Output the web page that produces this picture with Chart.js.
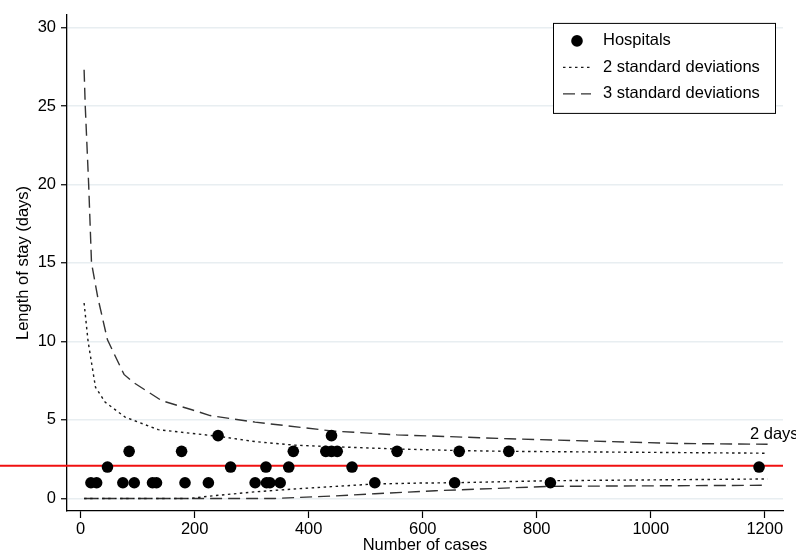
<!DOCTYPE html>
<html>
<head>
<meta charset="utf-8">
<title>Length of stay by number of cases</title>
<script src="https://cdn.jsdelivr.net/npm/chart.js@4.4.1/dist/chart.umd.min.js"></script>
<style>
    html, body { margin: 0; padding: 0; background: #fff; }
    canvas { display: block; }
</style>
</head>
<body>
<canvas id="funnel-chart" width="796" height="555"></canvas>
<script>
// Hospitals (number of cases, length of stay)
const hospitalCases = [18, 28, 74, 94, 126, 133, 183, 224, 306, 326, 332, 350, 516, 656, 824,
                       47, 263, 325, 365, 476, 1190,
                       85, 177, 373, 430, 440, 450, 555, 664, 751,
                       241, 440];
const hospitalLos = [1, 1, 1, 1, 1, 1, 1, 1, 1, 1, 1, 1, 1, 1, 1,
                     2, 2, 2, 2, 2, 2,
                     3, 3, 3, 3, 3, 3, 3, 3, 3,
                     4, 4];

// Overall mean
const meanLos = 2.08;
const meanLabel = '2 days';

// 2 standard deviation limits
const sd2UpperCases = [6, 13, 26, 43, 78, 136, 241, 306, 373, 440, 555, 664, 751, 1205];
const sd2Upper = [12.45, 10.0, 7.08, 6.13, 5.18, 4.38, 3.96, 3.62, 3.4, 3.3, 3.15, 3.05, 3.0, 2.88];
const sd2LowerCases = [6, 190, 241, 306, 373, 440, 516, 595, 656, 824, 1205];
const sd2Lower = [0, 0, 0.2, 0.42, 0.6, 0.75, 0.92, 0.98, 1.0, 1.13, 1.24];

// 3 standard deviation limits
const sd3UpperCases = [6, 8, 14, 19, 30, 47, 76, 92, 142, 195, 227, 306, 440, 555, 700, 751, 1051, 1205];
const sd3Upper = [27.3, 25.0, 20.0, 15.0, 12.8, 10.1, 7.9, 7.4, 6.23, 5.65, 5.28, 4.86, 4.3, 4.05, 3.87, 3.8, 3.5, 3.45];
const sd3LowerCases = [6, 341, 440, 516, 622, 824, 1205];
const sd3Lower = [0, 0, 0.15, 0.3, 0.49, 0.77, 0.84];

// Axes
const xTicks = [0, 200, 400, 600, 800, 1000, 1200];
const xTickLabels = ['0', '200', '400', '600', '800', '1000', '1200'];
const yTicks = [0, 5, 10, 15, 20, 25, 30];
const yTickLabels = ['0', '5', '10', '15', '20', '25', '30'];

const FONT = { family: '"Liberation Sans", Arial, sans-serif', size: 16.5 };
const DOTTED = [2.5, 3.5];
const DASHED = [12, 6];

function toPoints(xs, ys) {
    return xs.map((x, i) => ({ x: x, y: ys[i] }));
}

function limitLine(label, xs, ys, dash, color, inLegend) {
    return {
        label: label,
        data: toPoints(xs, ys),
        showLine: true,
        pointRadius: 0,
        pointHoverRadius: 0,
        borderColor: color,
        borderWidth: 1.4,
        borderDash: dash,
        fill: false,
        tension: 0,
        inLegend: inLegend
    };
}

// Mean line across the whole width, under the points
const meanLine = {
    id: 'meanLine',
    beforeDatasetsDraw(chart) {
        const { ctx, chartArea, scales } = chart;
        const y = scales.y.getPixelForValue(meanLos);
        ctx.save();
        ctx.strokeStyle = '#f01010';
        ctx.lineWidth = 2;
        ctx.beginPath();
        ctx.moveTo(0, y);
        ctx.lineTo(chartArea.right, y);
        ctx.stroke();
        ctx.restore();
    },
    afterDatasetsDraw(chart) {
        const { ctx, chartArea, scales } = chart;
        ctx.save();
        ctx.font = `${FONT.size}px ${FONT.family}`;
        ctx.fillStyle = '#000';
        ctx.textAlign = 'left';
        ctx.textBaseline = 'middle';
        ctx.fillText(meanLabel, chartArea.right - 33, scales.y.getPixelForValue(4.1));
        ctx.restore();
    }
};

// Boxed legend in the top right corner
const legendBox = {
    id: 'legendBox',
    afterDraw(chart) {
        const { ctx, chartArea } = chart;
        const items = chart.data.datasets.filter(d => d.inLegend);
        const boxW = 222, boxH = 90, rowH = 26.5;
        const x0 = chartArea.right - 8 - boxW;
        const y0 = chartArea.top + 8;

        ctx.save();
        ctx.fillStyle = '#fff';
        ctx.fillRect(x0, y0, boxW, boxH);
        ctx.strokeStyle = '#000';
        ctx.lineWidth = 1;
        ctx.strokeRect(x0 + 0.5, y0 + 0.5, boxW, boxH);

        ctx.font = `${FONT.size}px ${FONT.family}`;
        ctx.textBaseline = 'middle';
        items.forEach((d, i) => {
            const cy = y0 + 18 + i * rowH;
            if (d.showLine) {
                ctx.strokeStyle = d.borderColor;
                ctx.lineWidth = d.borderWidth;
                ctx.setLineDash(d.borderDash);
                ctx.beginPath();
                ctx.moveTo(x0 + 10, cy);
                ctx.lineTo(x0 + 38, cy);
                ctx.stroke();
                ctx.setLineDash([]);
            } else {
                ctx.fillStyle = d.backgroundColor;
                ctx.beginPath();
                ctx.arc(x0 + 24, cy, d.pointRadius, 0, Math.PI * 2);
                ctx.fill();
            }
            ctx.fillStyle = '#000';
            ctx.fillText(d.label, x0 + 50, cy);
        });
        ctx.restore();
    }
};

function initChart() {
    const ctx = document.getElementById('funnel-chart').getContext('2d');
    new Chart(ctx, {
        type: 'scatter',
        data: {
            datasets: [
                {
                    label: 'Hospitals',
                    data: toPoints(hospitalCases, hospitalLos),
                    pointRadius: 5.8,
                    pointHoverRadius: 5.8,
                    backgroundColor: '#000',
                    borderWidth: 0,
                    inLegend: true
                },
                limitLine('2 standard deviations', sd2UpperCases, sd2Upper, DOTTED, '#1a1a1a', true),
                limitLine('3 standard deviations', sd3UpperCases, sd3Upper, DASHED, '#333', true),
                limitLine('', sd2LowerCases, sd2Lower, DOTTED, '#1a1a1a', false),
                limitLine('', sd3LowerCases, sd3Lower, DASHED, '#333', false)
            ]
        },
        options: {
            responsive: false,
            animation: false,
            events: [],
            layout: { padding: { top: 12, right: 13, left: 0, bottom: 0 } },
            plugins: {
                legend: { display: false },
                tooltip: { enabled: false }
            },
            scales: {
                x: {
                    type: 'linear',
                    min: -24,
                    max: 1232,
                    afterBuildTicks: s => { s.ticks = xTicks.map(v => ({ value: v })); },
                    afterFit: s => { s.height = 44; },
                    grid: { display: true, drawOnChartArea: false, drawTicks: true, tickLength: 7, tickColor: '#000', tickWidth: 1.2 },
                    border: { color: '#000', width: 1.3 },
                    ticks: {
                        color: '#000',
                        font: FONT,
                        padding: 2,
                        autoSkip: false,
                        maxRotation: 0,
                        callback: (v, i) => xTickLabels[i]
                    },
                    title: { display: true, text: 'Number of cases', color: '#000', font: FONT, padding: 0 }
                },
                y: {
                    type: 'linear',
                    min: -0.8,
                    max: 30.8,
                    afterBuildTicks: s => { s.ticks = yTicks.map(v => ({ value: v })); },
                    afterFit: s => { s.width = 67; },
                    grid: { color: '#e8eef1', lineWidth: 1.5, drawTicks: true, tickLength: 6, tickColor: '#000', tickWidth: 1.2 },
                    border: { color: '#000', width: 1.3 },
                    ticks: {
                        color: '#000',
                        font: FONT,
                        padding: 5,
                        callback: (v, i) => yTickLabels[i]
                    },
                    title: { display: true, text: 'Length of stay (days)', color: '#000', font: FONT, padding: { top: 14, bottom: 0 } }
                }
            }
        },
        plugins: [meanLine, legendBox]
    });
}

initChart();
</script>
</body>
</html>
